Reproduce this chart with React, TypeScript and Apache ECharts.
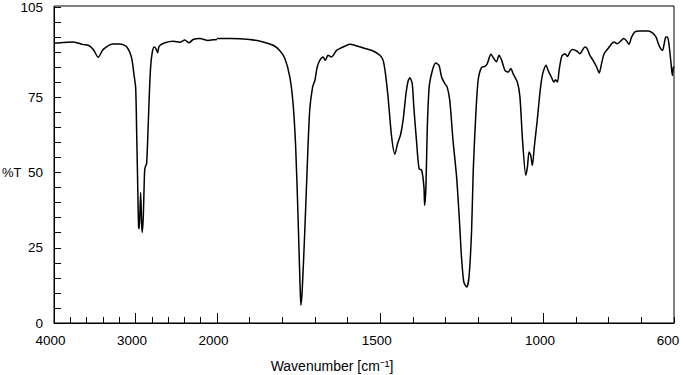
import React, { useEffect, useRef } from "react";
import * as echarts from "echarts";

// Wavenumber (cm-1), descending
const wavenumbers = [
  4000, 3990, 3763, 3641, 3580, 3518, 3457, 3396, 3273, 3191, 3109, 3048, 3019, 2998, 2986, 2974,
  2962, 2954, 2937, 2925, 2918, 2905, 2888, 2876, 2864, 2851, 2832, 2815, 2795, 2771, 2750, 2729,
  2709, 2639, 2538, 2456, 2394, 2345, 2292, 2210, 2109, 2047, 2000,
  1961, 1900, 1859, 1828, 1808, 1792, 1777, 1767, 1759, 1752, 1746, 1743, 1739, 1731, 1724, 1716,
  1707, 1700, 1693, 1685, 1675, 1668, 1660, 1649, 1634, 1624, 1614, 1593, 1578, 1552, 1522, 1501,
  1491, 1484, 1476, 1465, 1455, 1447, 1438, 1430, 1421, 1414, 1409, 1402, 1397, 1389, 1381, 1373,
  1366, 1364, 1360, 1356, 1350, 1340, 1330, 1320, 1312, 1302, 1295, 1287, 1277, 1266, 1258, 1251,
  1244, 1235, 1228, 1220, 1215, 1207, 1200, 1190, 1179, 1172, 1161, 1152, 1144, 1136, 1128, 1118,
  1108, 1100, 1093, 1080, 1072, 1064, 1054, 1049, 1044, 1039, 1034, 1028, 1019, 1011, 1006, 1001,
  992, 985, 975, 968, 963, 957, 952, 944, 934, 926, 919, 911, 898, 888, 881, 873,
  866, 858, 848, 837, 829, 822, 814, 802, 791, 784, 774, 761, 754, 745, 738, 730,
  720, 705, 679, 666, 655, 648, 641, 635, 630, 625, 620, 615, 609, 605, 602, 600,
];

// Transmittance (%T), one per wavenumber
const transmittance = [
  92.9, 93.0, 93.4, 92.5, 92.3, 90.9, 88.3, 90.9, 92.7, 92.7, 91.8, 88.1, 82.6, 78.2, 63.8, 47.3,
  31.8, 31.3, 43.4, 33.0, 30.1, 35.1, 50.6, 52.2, 52.8, 60.5, 74.9, 84.8, 89.8, 91.7, 91.2, 89.8,
  92.0, 93.1, 93.6, 93.3, 94.0, 93.1, 94.2, 94.5, 93.9, 94.1, 94.2,
  94.2, 93.9, 93.1, 92.0, 90.3, 87.6, 81.5, 72.7, 58.3, 36.2, 14.1, 5.9, 10.8, 30.7, 50.6, 70.5,
  78.2, 80.4, 84.8, 87.0, 88.1, 87.0, 88.7, 88.1, 90.3, 90.9, 91.4, 92.3, 92.0, 91.1, 90.1, 88.7,
  87.0, 82.6, 74.9, 61.6, 55.9, 59.4, 62.2, 67.1, 76.0, 80.4, 81.2, 79.3, 71.5, 60.5, 51.1, 50.6,
  45.0, 39.0, 45.0, 63.8, 78.2, 83.7, 86.1, 85.4, 81.5, 79.3, 78.2, 73.8, 60.5, 48.4, 35.1, 21.9,
  13.6, 11.9, 15.2, 30.7, 50.6, 69.4, 80.4, 84.6, 85.0, 85.9, 89.0, 87.6, 86.5, 88.7, 87.0, 83.7,
  83.1, 84.3, 82.6, 79.8, 74.9, 60.5, 48.9, 51.7, 56.6, 55.5, 52.2, 58.3, 67.1, 76.0, 80.4, 83.1,
  85.4, 83.5, 81.3, 79.8, 80.6, 79.8, 83.7, 88.3, 89.2, 88.3, 89.8, 90.6, 90.1, 89.2, 90.3, 91.4,
  90.9, 88.7, 87.0, 84.8, 82.8, 85.9, 89.2, 90.9, 92.5, 93.1, 92.5, 93.6, 94.2, 93.4, 92.3, 94.7,
  96.4, 96.7, 96.7, 96.1, 94.7, 92.5, 90.9, 90.3, 92.5, 94.7, 94.7, 92.0, 85.9, 82.0, 84.8, 84.5,
];

// Axis ranges and tick labels
const highRange = [2000, 4000];
const lowRange = [600, 2000];
const xLabelsHigh = [4000, 3000, 2000];
const xLabelsLow = [1500, 1000, 600];
const xMajorTicksLow = [1500, 1000];
const yRange = [0, 105];
const yLabels = [0, 25, 50, 75, 105];

const FONT = "'Liberation Sans', Arial, Helvetica, sans-serif";

export default function App() {
  const ref = useRef<HTMLDivElement>(null);

  useEffect(() => {
    document.body.style.margin = "0";
    if (!ref.current) return;
    const chart = echarts.init(ref.current, undefined, { renderer: "svg" });

    const pairs = wavenumbers.map((w, i) => [w, transmittance[i]]);
    const highData = pairs.filter((p) => p[0] >= 2000);
    const lowData = pairs.filter((p) => p[0] <= 2000);

    const top = 6;
    const height = 317;
    const left = 54;
    const split = 217;
    const right = 674;

    const black = { color: "#000", width: 1 };
    const labelStyle = { color: "#000", fontFamily: FONT, fontSize: 13.5 };

    const hidden = {
      show: false,
      axisLine: { show: false },
      axisTick: { show: false },
      axisLabel: { show: false },
      splitLine: { show: false },
    };

    const xLabelFmt = (list: number[]) => (v: number) => {
      if (!list.includes(v)) return "";
      return v === 600 ? `{e|${v}}` : `{n|${v}}`;
    };
    const xRich = {
      n: { ...labelStyle, padding: [0, 7, 0, 0] },
      e: { ...labelStyle, padding: [0, 12, 0, 0] },
    };

    chart.setOption({
      animation: false,
      backgroundColor: "#fff",
      grid: [
        { left, top, width: split - left, height },
        { left: split, top, width: right - split, height },
        // full frame
        {
          left, top, width: right - left, height, show: true,
          borderColor: "#000", borderWidth: 1, backgroundColor: "transparent",
        },
      ],
      xAxis: [
        // 0: high region bottom, minor ticks + labels
        {
          type: "value", gridIndex: 0, position: "bottom",
          min: highRange[0], max: highRange[1], inverse: true, interval: 200,
          axisLine: { show: true, onZero: false, lineStyle: black },
          axisTick: { show: true, inside: true, length: 6, lineStyle: black },
          axisLabel: {
            ...labelStyle, margin: 10, showMinLabel: true, showMaxLabel: true,
            formatter: xLabelFmt(xLabelsHigh), rich: xRich,
          },
          splitLine: { show: false },
        },
        // 1: low region bottom, minor ticks + labels
        {
          type: "value", gridIndex: 1, position: "bottom",
          min: lowRange[0], max: lowRange[1], inverse: true, interval: 100,
          axisLine: { show: true, onZero: false, lineStyle: black },
          axisTick: { show: true, inside: true, length: 6, lineStyle: black },
          axisLabel: {
            ...labelStyle, margin: 10, showMinLabel: true, showMaxLabel: true,
            formatter: xLabelFmt(xLabelsLow), rich: xRich,
          },
          splitLine: { show: false },
        },
        // 2: high region major ticks
        {
          type: "value", gridIndex: 0, position: "bottom",
          min: highRange[0], max: highRange[1], inverse: true, interval: 1000,
          axisLine: { show: false, onZero: false },
          axisTick: { show: true, inside: true, length: 10, lineStyle: black },
          axisLabel: { show: false },
          splitLine: { show: false },
        },
        // 3: low region major ticks
        {
          type: "value", gridIndex: 1, position: "bottom",
          min: lowRange[0], max: lowRange[1], inverse: true,
          axisLine: { show: false, onZero: false },
          axisTick: { show: true, inside: true, length: 10, lineStyle: black, customValues: xMajorTicksLow },
          axisLabel: { show: false },
          splitLine: { show: false },
        },
        // 4: frame grid (hidden axis)
        { type: "value", gridIndex: 2, min: 0, max: 1, ...hidden },
      ],
      yAxis: [
        {
          type: "value", gridIndex: 0, position: "left",
          min: yRange[0], max: yRange[1], interval: 5,
          axisLine: { show: true, onZero: false, lineStyle: black },
          axisTick: { show: true, inside: true, length: 7, lineStyle: black },
          axisLabel: {
            ...labelStyle, margin: 11, showMinLabel: true, showMaxLabel: true,
            formatter: (v: number) => (yLabels.includes(v) ? String(v) : ""),
          },
          splitLine: { show: false },
        },
        {
          type: "value", gridIndex: 1, position: "right",
          min: yRange[0], max: yRange[1], ...hidden,
        },
        { type: "value", gridIndex: 2, min: 0, max: 1, ...hidden },
      ],
      series: [
        {
          type: "line", xAxisIndex: 0, yAxisIndex: 0, data: highData,
          showSymbol: false, symbol: "none", smooth: 0.25,
          lineStyle: { color: "#000", width: 1.5 },
        },
        {
          type: "line", xAxisIndex: 1, yAxisIndex: 1, data: lowData,
          showSymbol: false, symbol: "none", smooth: 0.25,
          lineStyle: { color: "#000", width: 1.5 },
        },
      ],
      graphic: [
        {
          type: "text", x: 2, y: 172,
          style: { text: "%T", fill: "#000", font: `13px ${FONT}`, textVerticalAlign: "middle" },
        },
        {
          type: "text", x: 332, y: 366,
          style: {
            text: "Wavenumber [cm⁻¹]", fill: "#000", font: `14px ${FONT}`,
            textAlign: "center", textVerticalAlign: "middle",
          },
        },
      ],
    });

    return () => chart.dispose();
  }, []);

  return <div ref={ref} style={{ width: 683, height: 375 }} />;
}
